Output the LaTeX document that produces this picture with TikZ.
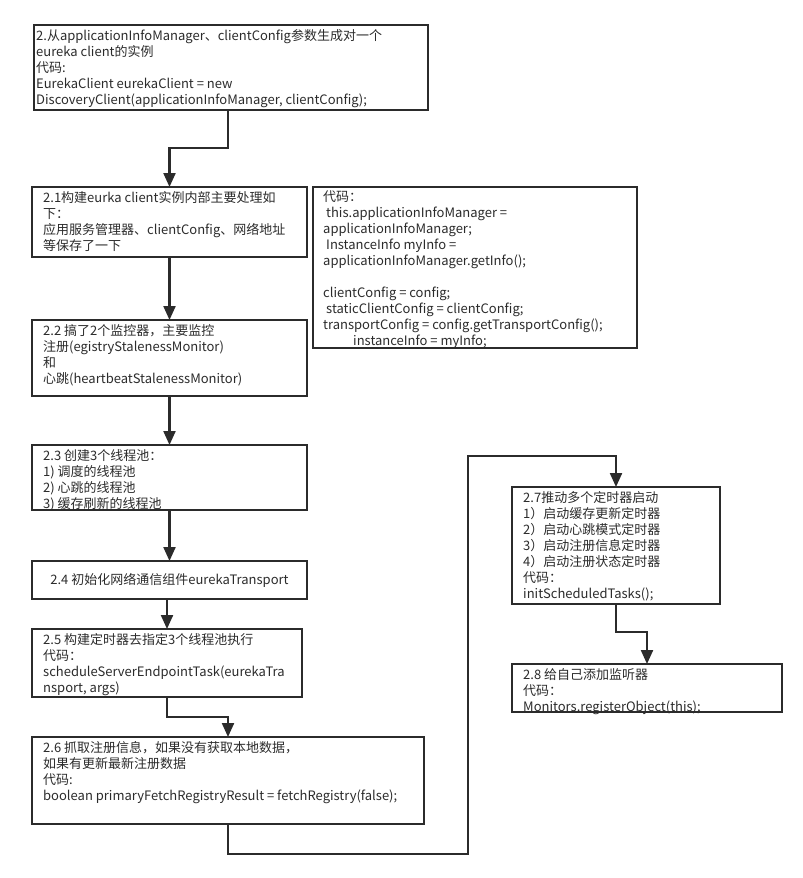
\documentclass[tikz,border=0pt]{standalone}
\usepackage{fontspec}
\setmainfont{Noto Sans CJK SC}
\usetikzlibrary{arrows.meta,calc}
\definecolor{ink}{HTML}{2B2B2B}
\begin{document}
\begin{tikzpicture}[x=1pt,y=-1pt,
  box/.style={draw=ink,line width=2.2pt,inner sep=0pt,outer sep=0pt,anchor=north west},
  txt/.style={anchor=north west,align=left,inner sep=0pt,text=ink,font=\fontsize{13}{16}\selectfont},
  arr/.style={draw=ink,line width=2.2pt,-{Triangle[length=14pt,width=12pt]}}]
\useasboundingbox (0,0) rectangle (803,878);
% boxes
\node[box,minimum width=394pt,minimum height=85pt] (b1) at (34,25) {};
\node[box,minimum width=275pt,minimum height=70pt] (b21) at (32,187) {};
\node[box,minimum width=324pt,minimum height=161pt] (bc) at (313,187) {};
\node[box,minimum width=275pt,minimum height=76pt] (b22) at (32,320) {};
\node[box,minimum width=275pt,minimum height=65pt] (b23) at (32,445) {};
\node[box,minimum width=275pt,minimum height=38pt,anchor=north west,text=ink,font=\fontsize{13}{16}\selectfont] (b24) at (32,561) {2.4 初始化网络通信组件eurekaTransport};
\node[box,minimum width=270pt,minimum height=68pt] (b25) at (32,629) {};
\node[box,minimum width=392pt,minimum height=87pt] (b26) at (32,737) {};
\node[box,minimum width=208pt,minimum height=117pt] (b27) at (512,487) {};
\node[box,minimum width=270pt,minimum height=48pt] (b28) at (512,664) {};
% texts
\node[txt] (t1) at (36,29) {2.从applicationInfoManager、clientConfig参数生成对一个\\eureka client的实例\\代码:\\EurekaClient eurekaClient = new\\DiscoveryClient(applicationInfoManager, clientConfig);};
\node[txt] (t21) at (43,191) {2.1构建eurka client实例内部主要处理如\\下：\\应用服务管理器、clientConfig、网络地址\\等保存了一下};
\node[txt] (tc) at (323,191) {代码：\\\hspace*{3pt}this.applicationInfoManager =\\applicationInfoManager;\\\hspace*{3pt}InstanceInfo myInfo =\\applicationInfoManager.getInfo();\\[16pt]clientConfig = config;\\\hspace*{3pt}staticClientConfig = clientConfig;\\transportConfig = config.getTransportConfig();\\\hspace*{30pt}instanceInfo = myInfo;};
\node[txt] (t22) at (43,324) {2.2 搞了2个监控器，主要监控\\注册(egistryStalenessMonitor)\\和\\心跳(heartbeatStalenessMonitor)};
\node[txt] (t23) at (43,449) {2.3 创建3个线程池：\\1) 调度的线程池\\2) 心跳的线程池\\3) 缓存刷新的线程池};
\node[txt] (t25) at (43,633) {2.5 构建定时器去指定3个线程池执行\\代码：\\scheduleServerEndpointTask(eurekaTra\\nsport, args)};
\node[txt] (t26) at (43,741) {2.6 抓取注册信息，如果没有获取本地数据，\\如果有更新最新注册数据\\代码:\\boolean primaryFetchRegistryResult = fetchRegistry(false);};
\node[txt] (t27) at (523,491) {2.7推动多个定时器启动\\1）启动缓存更新定时器\\2）启动心跳模式定时器\\3）启动注册信息定时器\\4）启动注册状态定时器\\代码：\\initScheduledTasks();};
\node[txt] (t28) at (523,668) {2.8 给自己添加监听器\\代码：\\Monitors.registerObject(this);};
% connectors
\coordinate (k1) at (228,148);
\coordinate (k2) at (0,717);
\coordinate (k3) at (468,854);
\coordinate (k4) at (468,456);
\coordinate (k5) at (0,632);
\draw[arr] (b1.south -| k1) -- (k1) -| (b21.north);
\draw[arr] (b21.south) -- (b22.north);
\draw[arr] (b22.south) -- (b23.north);
\draw[arr] (b23.south) -- (b24.north);
\draw[arr] (b24.south -| b25.north) -- (b25.north);
\draw[arr] (b25.south) |- (k2 -| b26.north) -- (b26.north);
\draw[arr] (b26.south) |- (k3) -- (k4) -| (b27.north);
\draw[arr] (b27.south) |- (k5 -| b28.north) -- (b28.north);
\end{tikzpicture}
\end{document}
